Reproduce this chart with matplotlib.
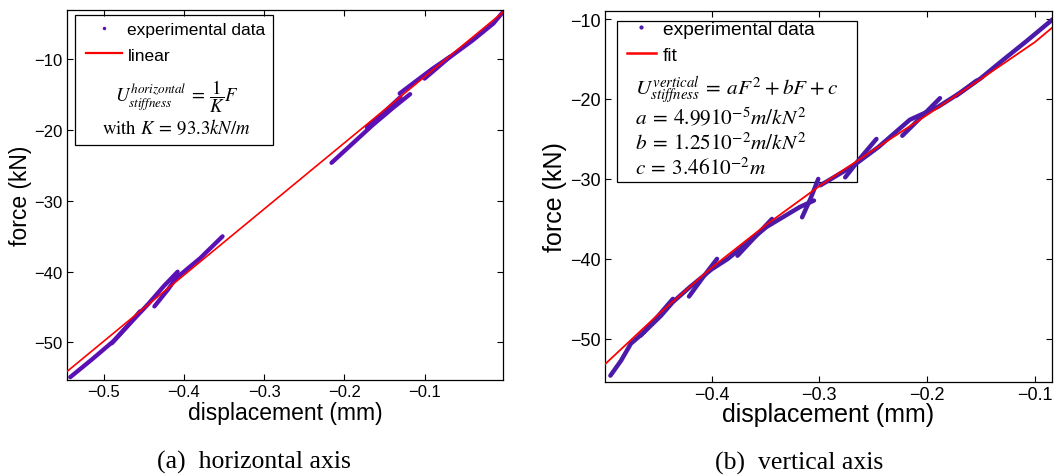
import matplotlib
matplotlib.use("Agg")
import matplotlib.pyplot as plt
from matplotlib.lines import Line2D
from matplotlib.patches import Rectangle

plt.rcParams["font.family"] = ["Liberation Sans", "DejaVu Sans"]
plt.rcParams["mathtext.fontset"] = "stix"

# ---- data (displacement in mm, force in kN) ----
# (a) horizontal axis: experimental traces, one list per trace
h_exp_disp = [
    [-0.542, -0.515, -0.488, -0.465, -0.445, -0.425, -0.408],
    [-0.490, -0.470, -0.455],
    [-0.437, -0.420, -0.408],
    [-0.413, -0.380, -0.352],
    [-0.216, -0.190, -0.165, -0.140, -0.118],
    [-0.172, -0.150, -0.130],
    [-0.131, -0.110, -0.090, -0.068],
    [-0.100, -0.070, -0.040, -0.014, -0.003],
]
h_exp_force = [
    [-54.9, -52.4, -49.8, -47.0, -44.6, -42.0, -40.0],
    [-50.1, -47.6, -45.6],
    [-44.9, -42.5, -40.6],
    [-41.2, -38.1, -35.0],
    [-24.6, -21.9, -19.3, -16.9, -14.9],
    [-19.6, -17.4, -15.3],
    [-14.8, -13.0, -11.3, -9.6],
    [-12.7, -9.8, -7.3, -4.9, -3.4],
]
# linear fit, K = 93.3
h_fit_disp = [-0.546, -0.002]
h_fit_force = [-54.1, -3.3]

# (b) vertical axis: experimental traces
v_exp_disp = [
    [-0.494, -0.484, -0.475, -0.463, -0.447, -0.436, -0.420, -0.400, -0.385, -0.349, -0.318, -0.305],
    [-0.466, -0.450, -0.436],
    [-0.421, -0.408, -0.395],
    [-0.376, -0.360, -0.344],
    [-0.316, -0.308, -0.301],
    [-0.299, -0.268, -0.245, -0.216, -0.190, -0.169, -0.150, -0.132, -0.108, -0.083],
    [-0.276, -0.262, -0.247],
    [-0.223, -0.205, -0.188],
    [-0.173, -0.163, -0.154],
]
v_exp_force = [
    [-54.6, -52.7, -50.6, -49.2, -47.1, -45.4, -43.5, -41.3, -40.0, -36.0, -33.5, -32.7],
    [-49.6, -47.2, -45.0],
    [-44.7, -42.3, -40.0],
    [-39.6, -37.3, -35.0],
    [-34.8, -32.4, -30.0],
    [-30.8, -28.3, -26.0, -22.6, -21.0, -19.2, -17.4, -15.4, -12.8, -10.0],
    [-29.8, -27.4, -25.0],
    [-24.6, -22.2, -19.9],
    [-19.6, -18.6, -17.7],
]
# quadratic fit curve
v_fit_disp = [-0.500, -0.450, -0.400, -0.350, -0.300, -0.250, -0.200, -0.150, -0.100, -0.084]
v_fit_force = [-53.3, -47.0, -41.1, -35.8, -30.9, -26.4, -22.0, -17.5, -12.9, -11.1]

purple_a = "#5a10b4"
purple_b = "#4b1aa8"
red = "#ff0000"

fig = plt.figure(figsize=(10.54, 4.77), dpi=100)
ax1 = fig.add_axes([0.0636, 0.2013, 0.4137, 0.7757])
ax2 = fig.add_axes([0.574, 0.197, 0.4241, 0.7778])

for ax in (ax1, ax2):
    ax.tick_params(direction="in", top=True, right=True, length=4, width=0.8, pad=3)
    for s in ax.spines.values():
        s.set_linewidth(0.9)

# ---- (a) ----
for d, f in zip(h_exp_disp, h_exp_force):
    ax1.plot(d, f, color=purple_a, lw=3.1, solid_capstyle="round", zorder=2)
ax1.plot(h_fit_disp, h_fit_force, color=red, lw=1.2, zorder=3)
ax1.set_xlim(-0.546, -0.002)
ax1.set_ylim(-55.3, -3.0)
ax1.set_xticks([-0.5, -0.4, -0.3, -0.2, -0.1])
ax1.set_yticks([-50, -40, -30, -20, -10])
ax1.tick_params(labelsize=12)
ax1.set_xlabel("displacement (mm)", fontsize=16.5, labelpad=1)
ax1.set_ylabel("force (kN)", fontsize=16.5, labelpad=2)

ax1.add_patch(Rectangle((0.018, 0.635), 0.454, 0.351, transform=ax1.transAxes,
                        facecolor="white", edgecolor="black", lw=0.9, zorder=1.5))
hl = [Line2D([], [], ls="none", marker=".", ms=3, color=purple_a),
      Line2D([], [], color=red, lw=1.6)]
ax1.legend(hl, ["experimental data", "linear"], loc="upper left",
           bbox_to_anchor=(0.043, 0.968), frameon=False, fontsize=12.5,
           borderpad=0, borderaxespad=0, handlelength=2.1, handletextpad=0.3,
           labelspacing=0.6)
ax1.text(0.252, 0.768, r"$U^{horizontal}_{stiffness} \:=\: \dfrac{1}{K}F$",
         transform=ax1.transAxes, ha="center", va="center", fontsize=13.5, zorder=4)
ax1.text(0.250, 0.684, r"with $K \:=\: 93.3kN/m$", transform=ax1.transAxes,
         ha="center", va="center", fontsize=13.5, family="STIXGeneral", zorder=4)

# ---- (b) ----
for d, f in zip(v_exp_disp, v_exp_force):
    ax2.plot(d, f, color=purple_b, lw=3.2, solid_capstyle="round", zorder=2)
ax2.plot(v_fit_disp, v_fit_force, color=red, lw=1.3, zorder=3)
ax2.set_xlim(-0.499, -0.084)
ax2.set_ylim(-55.4, -9.0)
ax2.set_xticks([-0.4, -0.3, -0.2, -0.1])
ax2.set_yticks([-50, -40, -30, -20, -10])
ax2.tick_params(labelsize=13)
ax2.set_xlabel("displacement (mm)", fontsize=18, labelpad=-1)
ax2.set_ylabel("force (kN)", fontsize=18, labelpad=2)

ax2.add_patch(Rectangle((0.027, 0.539), 0.537, 0.434, transform=ax2.transAxes,
                        facecolor="white", edgecolor="black", lw=0.9, zorder=1.5))
hl2 = [Line2D([], [], ls="none", marker=".", ms=4, color=purple_b),
       Line2D([], [], color=red, lw=1.8)]
ax2.legend(hl2, ["experimental data", "fit"], loc="upper left",
           bbox_to_anchor=(0.049, 0.975), frameon=False, fontsize=13.8,
           borderpad=0, borderaxespad=0, handlelength=1.5, handletextpad=0.37,
           labelspacing=0.45)
formula_lines = [
    r"$U^{vertical}_{stiffness} \:=\: aF^2 \:+\: bF \:+\: c$",
    r"$a \:=\: 4.9910^{-5}m/kN^2$",
    r"$b \:=\: 1.2510^{-2}m/kN^2$",
    r"$c \:=\: 3.4610^{-2}m$",
]
for txt, yy in zip(formula_lines, [0.790, 0.717, 0.647, 0.580]):
    ax2.text(0.067, yy, txt, transform=ax2.transAxes, ha="left", va="center",
             fontsize=15.3, zorder=4)

fig.text(0.241, 0.031, "(a)  horizontal axis", ha="center", va="center",
         fontsize=18.5, family="Liberation Serif")
fig.text(0.758, 0.029, "(b)  vertical axis", ha="center", va="center",
         fontsize=18.5, family="Liberation Serif")

fig.savefig("out.png", dpi=100)
